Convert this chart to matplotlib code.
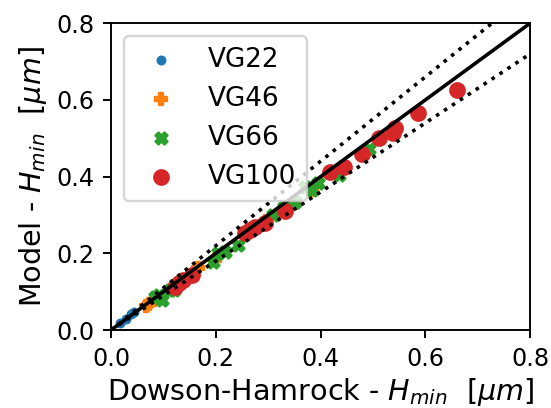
import numpy as np
import matplotlib
matplotlib.use("Agg")
import matplotlib.pyplot as plt

# Minimum film thickness: Dowson-Hamrock (x) vs model (y), in micrometres
vg22_dh = [0.018, 0.028, 0.038, 0.044]
vg22_model = [0.019, 0.029, 0.041, 0.046]

vg46_dh = [0.066, 0.072, 0.082, 0.126, 0.166, 0.198, 0.296, 0.352, 0.384]
vg46_model = [0.063, 0.069, 0.078, 0.118, 0.163, 0.184, 0.284, 0.332, 0.364]

vg66_dh = [0.084, 0.092, 0.097, 0.112, 0.120, 0.195, 0.205, 0.218, 0.243,
           0.310, 0.330, 0.352, 0.371, 0.383, 0.396, 0.436, 0.492]
vg66_model = [0.087, 0.092, 0.078, 0.104, 0.105, 0.178, 0.200, 0.204, 0.222,
              0.300, 0.320, 0.335, 0.374, 0.366, 0.383, 0.405, 0.472]

vg100_dh = [0.122, 0.130, 0.138, 0.154, 0.256, 0.266, 0.275, 0.294, 0.332,
            0.418, 0.444, 0.480, 0.512, 0.539, 0.542, 0.587, 0.660]
vg100_model = [0.113, 0.122, 0.131, 0.143, 0.252, 0.262, 0.270, 0.280, 0.311,
               0.411, 0.426, 0.459, 0.500, 0.513, 0.527, 0.566, 0.627]

limits = [0.0, 0.8]
ticks = [0.0, 0.2, 0.4, 0.6, 0.8]
band = 0.10  # +/- 10 % agreement band

DPI = 172
fig, ax = plt.subplots(figsize=(551 / DPI, 408 / DPI), dpi=DPI)

ax.scatter(vg22_dh, vg22_model, s=10, color="#1f77b4", label="VG22", zorder=2)
ax.scatter(vg46_dh, vg46_model, s=22, marker="P", color="#ff7f0e",
           label="VG46", zorder=2)
ax.scatter(vg66_dh, vg66_model, s=25, marker="X", color="#2ca02c",
           label="VG66", zorder=2)
ax.scatter(vg100_dh, vg100_model, s=36, color="#d62728", label="VG100", zorder=2)

xs = np.array(limits)
ax.plot(xs, xs, color="black", lw=1.5, zorder=3)
ax.plot(xs, xs * (1 + band), color="black", ls=":", lw=1.5, zorder=3)
ax.plot(xs, xs * (1 - band), color="black", ls=":", lw=1.5, zorder=3)

ax.set_xlim(limits)
ax.set_ylim(limits)
ax.set_xticks(ticks)
ax.set_yticks(ticks)
ax.tick_params(labelsize=10)

ax.set_xlabel(r"Dowson-Hamrock - $H_{min}$  [$\mu m$]", fontsize=12, labelpad=2)
ax.set_ylabel(r"Model - $H_{min}$  [$\mu m$]", fontsize=12, labelpad=3)
ax.legend(loc="upper left", fontsize=11)

fig.subplots_adjust(left=0.2015, right=0.962, bottom=0.191, top=0.943)
fig.savefig("out.png", dpi=DPI)
